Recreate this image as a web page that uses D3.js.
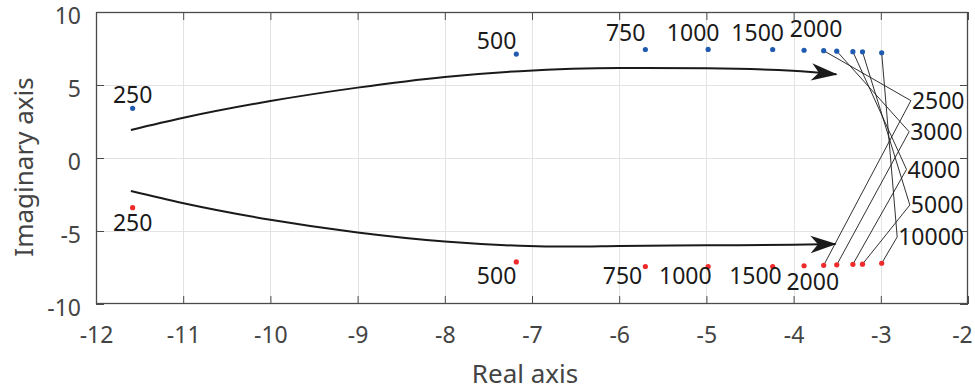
<!DOCTYPE html>
<html>
<head>
<meta charset="utf-8">
<script src="https://cdn.jsdelivr.net/npm/d3@7"></script>
<style>
  html, body { margin: 0; padding: 0; background: #fff; }
  svg { display: block; }
  text { font-family: "Noto Sans", "Open Sans", sans-serif; }
</style>
</head>
<body>
<svg id="chart" width="975" height="391"></svg>
<script>
// Excitation frequencies (Hz) and the matching pole locations (upper half-plane; lower are conjugates)
const freqs    = [250, 500, 750, 1000, 1500, 2000, 2500, 3000, 4000, 5000, 10000];
const realPart = [-11.58, -7.18, -5.70, -4.98, -4.24, -3.88, -3.655, -3.505, -3.32, -3.21, -2.99];
const imagPart = [3.40, 7.12, 7.43, 7.44, 7.43, 7.38, 7.35, 7.32, 7.28, 7.27, 7.21];

// Axis ticks
const xTicks = [-12, -11, -10, -9, -8, -7, -6, -5, -4, -3, -2];
const yTicks = [-10, -5, 0, 5, 10];

// Trend arrows (data units)
const upperArrowRe = [-11.60, -11.01, -10.00, -9.00, -8.00, -7.14, -6.00, -5.00, -4.01, -3.51];
const upperArrowIm = [1.92, 2.74, 3.90, 4.82, 5.55, 5.95, 6.17, 6.14, 5.98, 5.73];
const lowerArrowRe = [-11.60, -11.01, -10.00, -9.00, -8.00, -7.14, -6.56, -6.00, -5.00, -4.01, -3.52];
const lowerArrowIm = [-2.26, -3.08, -4.23, -5.10, -5.72, -6.01, -6.07, -6.03, -5.98, -5.94, -5.89];

// Leader-line label vertices for the crowded high-frequency poles
const leaderFreqs = [2500, 3000, 4000, 5000, 10000];
const leaderRe = [-2.655, -2.675, -2.705, -2.667, -2.812];
const leaderIm = [3.93, 1.80, -0.78, -3.22, -5.41];

// Placement of the inline labels, pixel offsets from the pole: [dx, dy, anchor]
const upperLabelLayout = {
  250: [0, -5, "middle"], 500: [0, -5, "end"], 750: [0, -8.6, "end"],
  1000: [-15, -8.6, "middle"], 1500: [-15, -9, "middle"], 2000: [12, -13, "middle"]
};
const lowerLabelLayout = {
  250: [0, 23, "middle"], 500: [0, 22.3, "end"], 750: [-22.8, 18, "middle"],
  1000: [-22.8, 17.6, "middle"], 1500: [-17.2, 18, "middle"], 2000: [8.7, 24, "middle"]
};

const svg = d3.select("#chart");
const plotLeft = 96, plotRight = 968, plotTop = 12, plotBottom = 304;

const x = d3.scaleLinear().domain([-12, -2]).range([plotLeft, plotRight]);
const y = d3.scaleLinear().domain([-10, 10]).range([plotBottom, plotTop]);

// Grid
const grid = svg.append("g").attr("stroke", "#e3e3e3").attr("stroke-width", 1);
grid.selectAll("line.gx").data(xTicks.slice(1, -1)).join("line")
  .attr("x1", d => Math.round(x(d)) + 0.5).attr("x2", d => Math.round(x(d)) + 0.5)
  .attr("y1", plotTop).attr("y2", plotBottom);
grid.selectAll("line.gy").data(yTicks.slice(1, -1)).join("line")
  .attr("y1", d => Math.round(y(d)) + 0.5).attr("y2", d => Math.round(y(d)) + 0.5)
  .attr("x1", plotLeft).attr("x2", plotRight);

// Axes (box with inward ticks on all four sides)
const axisColor = "#4a4a4a";
function styleAxis(g) {
  g.select(".domain").remove();
  g.selectAll(".tick line").attr("stroke", axisColor);
  g.selectAll(".tick text").attr("fill", "#444").attr("font-size", 23)
    .attr("font-family", "\"Noto Sans\", \"Open Sans\", sans-serif");
}
svg.append("g").attr("transform", `translate(0,${plotBottom})`)
  .call(d3.axisBottom(x).tickValues(xTicks).tickSize(-8).tickFormat(d => String(d)))
  .call(styleAxis)
  .call(g => g.selectAll(".tick text").attr("y", 39).attr("dy", 0)
    .attr("dx", d => d === xTicks[xTicks.length - 1] ? -6 : 0));
svg.append("g").attr("transform", `translate(${plotLeft},0)`)
  .call(d3.axisLeft(y).tickValues(yTicks).tickSize(-8).tickFormat(d => String(d)))
  .call(styleAxis)
  .call(g => g.selectAll(".tick text").attr("x", -15).attr("dy", "0.49em"));
svg.append("g").attr("transform", `translate(0,${plotTop})`)
  .call(d3.axisTop(x).tickValues(xTicks).tickSize(-8).tickFormat(""))
  .call(styleAxis);
svg.append("g").attr("transform", `translate(${plotRight},0)`)
  .call(d3.axisRight(y).tickValues(yTicks).tickSize(-8).tickFormat(""))
  .call(styleAxis);
svg.append("rect").attr("x", plotLeft + 0.5).attr("y", plotTop + 0.5)
  .attr("width", plotRight - plotLeft - 1).attr("height", plotBottom - plotTop - 1)
  .attr("fill", "none").attr("stroke", axisColor).attr("stroke-width", 1.3);

// Axis titles
svg.append("text").attr("x", 525).attr("y", 383).attr("text-anchor", "middle")
  .attr("font-size", 26).attr("fill", "#444").text("Real axis");
svg.append("text").attr("transform", "translate(33,167) rotate(-90)")
  .attr("text-anchor", "middle").attr("font-size", 26).attr("fill", "#444").text("Imaginary axis");

// Arrowhead
svg.append("defs").append("marker")
  .attr("id", "head").attr("markerUnits", "userSpaceOnUse")
  .attr("markerWidth", 30).attr("markerHeight", 30)
  .attr("viewBox", "-22 -10 24 20").attr("refX", 0).attr("refY", 0)
  .attr("orient", "auto")
  .append("path").attr("d", "M1,0 L-20,-7 L-14,0 L-20,7 Z").attr("fill", "#1a1a1a");

const curve = d3.line().x(d => x(d[0])).y(d => y(d[1])).curve(d3.curveMonotoneX);
[[upperArrowRe, upperArrowIm], [lowerArrowRe, lowerArrowIm]].forEach(([re, im]) => {
  svg.append("path").attr("d", curve(re.map((r, i) => [r, im[i]])))
    .attr("fill", "none").attr("stroke", "#1a1a1a").attr("stroke-width", 2)
    .attr("marker-end", "url(#head)");
});

// Leader lines from both conjugate poles to the shared label
const leaders = svg.append("g").attr("stroke", "#1a1a1a").attr("stroke-width", 0.9).attr("fill", "none");
leaderFreqs.forEach((f, k) => {
  const i = freqs.indexOf(f);
  const vx = x(leaderRe[k]), vy = y(leaderIm[k]);
  leaders.append("path")
    .attr("d", `M${x(realPart[i])},${y(imagPart[i])} L${vx},${vy} L${x(realPart[i])},${y(-imagPart[i])}`);
  svg.append("text").attr("x", vx + 1).attr("y", vy).attr("dy", "0.36em")
    .attr("font-size", 23).attr("fill", "#1a1a1a").text(f);
});

// Poles
const poles = freqs.map((f, i) => ({ f, re: realPart[i], im: imagPart[i] }));
svg.append("g").selectAll("circle").data(poles).join("circle")
  .attr("cx", d => x(d.re)).attr("cy", d => y(d.im)).attr("r", 2.6).attr("fill", "#1f5cb0");
svg.append("g").selectAll("circle").data(poles).join("circle")
  .attr("cx", d => x(d.re)).attr("cy", d => y(-d.im)).attr("r", 2.6).attr("fill", "#ee2a2a");

// Inline frequency labels
poles.forEach(d => {
  const u = upperLabelLayout[d.f];
  if (u) svg.append("text").attr("x", x(d.re) + u[0]).attr("y", y(d.im) + u[1])
    .attr("text-anchor", u[2]).attr("font-size", 23).attr("fill", "#1a1a1a").text(d.f);
  const l = lowerLabelLayout[d.f];
  if (l) svg.append("text").attr("x", x(d.re) + l[0]).attr("y", y(-d.im) + l[1])
    .attr("text-anchor", l[2]).attr("font-size", 23).attr("fill", "#1a1a1a").text(d.f);
});
</script>
</body>
</html>
